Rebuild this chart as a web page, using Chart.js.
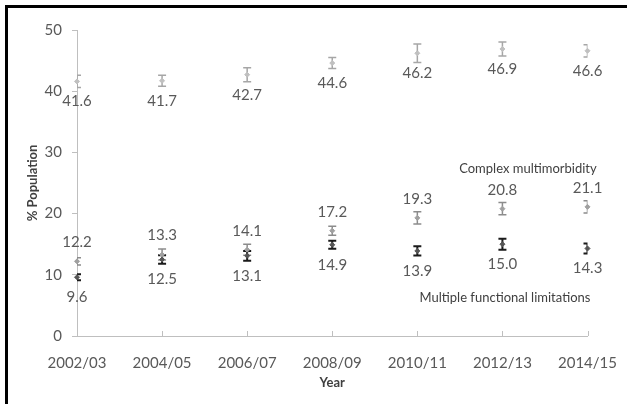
<!DOCTYPE html>
<html lang="en">
<head>
<meta charset="UTF-8" />
<title>% Population by year</title>
<script src="https://cdn.jsdelivr.net/npm/chart.js"></script>
<style>
  html, body { margin: 0; padding: 0; background: #fff; }
  .wrap { position: relative; width: 627px; height: 404px; }
  .frame { position: absolute; left: 5px; top: 5px; right: 0; bottom: 0;
           border-left: 3px solid #000; border-top: 3px solid #000; pointer-events: none; }
  canvas { position: absolute; left: 0; top: 0; }
</style>
</head>
<body>
<div class="wrap">
  <canvas id="chart" width="627" height="404"></canvas>
  <div class="frame"></div>
</div>

<script>
// categories
const years = ['2002/03', '2004/05', '2006/07', '2008/09', '2010/11', '2012/13', '2014/15'];

// values (% population) and their error half-widths
const multimorbidity = [41.6, 41.7, 42.7, 44.6, 46.2, 46.9, 46.6];
const multimorbidityErr = [1.0, 0.9, 1.15, 0.9, 1.5, 1.15, 1.0];

const complexMultimorbidity = [12.2, 13.3, 14.1, 17.2, 19.3, 20.8, 21.1];
const complexMultimorbidityErr = [0.6, 0.9, 0.9, 0.75, 1.0, 1.0, 1.0];

const functionalLimitations = [9.6, 12.5, 13.1, 14.9, 13.9, 15.0, 14.3];
const functionalLimitationsErr = [0.5, 0.7, 0.8, 0.65, 0.75, 0.9, 0.8];

const yTicks = [0, 10, 20, 30, 40, 50];

// text annotations: [text, category position, value]
const notes = [
    ['Complex multimorbidity', 5.3, 27.3],
    ['Multiple functional limitations', 5.03, 6.2]
];

const font = 'Lato, "Open Sans", sans-serif';
const textGrey = '#595959';

// error bars, clipped to the plot area like the original
const errorBars = {
    id: 'errorBars',
    beforeDatasetsDraw(chart) {
        const { ctx, chartArea: a, scales: { y } } = chart;
        ctx.save();
        ctx.beginPath();
        ctx.rect(a.left, a.top, a.right - a.left, a.bottom - a.top);
        ctx.clip();
        chart.data.datasets.forEach((ds, di) => {
            const meta = chart.getDatasetMeta(di);
            ctx.strokeStyle = ds.barColor;
            ctx.lineWidth = ds.barWidth;
            ds.data.forEach((v, i) => {
                const x = meta.data[i].x;
                const top = y.getPixelForValue(v + ds.err[i]);
                const bot = y.getPixelForValue(v - ds.err[i]);
                ctx.beginPath();
                ctx.moveTo(x, top); ctx.lineTo(x, bot);
                ctx.moveTo(x - 4, top); ctx.lineTo(x + 4, top);
                ctx.moveTo(x - 4, bot); ctx.lineTo(x + 4, bot);
                ctx.stroke();
            });
        });
        ctx.restore();
    }
};

// value labels and annotations
const valueLabels = {
    id: 'valueLabels',
    afterDatasetsDraw(chart) {
        const { ctx, scales: { x, y } } = chart;
        ctx.save();
        ctx.font = '15px ' + font;
        ctx.fillStyle = textGrey;
        ctx.textAlign = 'center';
        ctx.textBaseline = 'middle';
        chart.data.datasets.forEach((ds, di) => {
            const meta = chart.getDatasetMeta(di);
            ds.data.forEach((v, i) => {
                const p = meta.data[i];
                ctx.fillText(v.toFixed(1), p.x, p.y + ds.labelShift);
            });
        });
        ctx.font = '13px ' + font;
        ctx.fillStyle = '#404040';
        notes.forEach(([t, cx, cy]) => {
            ctx.fillText(t, x.getPixelForValue(cx), y.getPixelForValue(cy));
        });
        // small inward tick marks on the x axis
        ctx.strokeStyle = '#bfbfbf';
        ctx.lineWidth = 1;
        x.ticks.forEach((t, i) => {
            const px = Math.round(x.getPixelForTick(i)) + 0.5;
            ctx.beginPath();
            ctx.moveTo(px, y.bottom);
            ctx.lineTo(px, y.bottom - 5);
            ctx.stroke();
        });
        ctx.restore();
    }
};

const ctx = document.getElementById('chart').getContext('2d');
new Chart(ctx, {
    type: 'line',
    data: {
        labels: years,
        datasets: [
            {
                label: 'Multimorbidity',
                data: multimorbidity,
                err: multimorbidityErr,
                barColor: '#a6a6a6', barWidth: 1.5, labelShift: 20,
                showLine: false,
                pointStyle: 'rectRot', pointRadius: 2.5,
                pointBackgroundColor: '#c0c0c0', pointBorderColor: '#c0c0c0'
            },
            {
                label: 'Complex multimorbidity',
                data: complexMultimorbidity,
                err: complexMultimorbidityErr,
                barColor: '#8c8c8c', barWidth: 1.5, labelShift: -19,
                showLine: false,
                pointStyle: 'rectRot', pointRadius: 2.5,
                pointBackgroundColor: '#a0a0a0', pointBorderColor: '#a0a0a0'
            },
            {
                label: 'Multiple functional limitations',
                data: functionalLimitations,
                err: functionalLimitationsErr,
                barColor: '#1a1a1a', barWidth: 2, labelShift: 20,
                showLine: false,
                pointStyle: 'rectRot', pointRadius: 2.5,
                pointBackgroundColor: '#555', pointBorderColor: '#555'
            }
        ]
    },
    options: {
        responsive: false,
        animation: false,
        devicePixelRatio: 1,
        layout: { padding: { top: 30, right: 36, bottom: 0, left: 8 } },
        plugins: { legend: { display: false }, tooltip: { enabled: false } },
        scales: {
            x: {
                offset: false,
                grid: { display: false },
                border: { color: '#bfbfbf', width: 1 },
                ticks: { color: textGrey, font: { family: font, size: 15 }, padding: 10, maxRotation: 0 },
                title: { display: true, text: 'Year', color: '#404040',
                         font: { family: font, size: 13, weight: 'bold' }, padding: { top: 13, bottom: 13 } },
                afterFit: s => { s.height = 68; }
            },
            y: {
                min: 0, max: 50,
                afterBuildTicks: s => { s.ticks = yTicks.map(v => ({ value: v })); },
                grid: { drawOnChartArea: false, tickLength: 5, color: '#bfbfbf' },
                border: { color: '#bfbfbf', width: 1 },
                ticks: { color: textGrey, font: { family: font, size: 15 }, padding: 10 },
                title: { display: true, text: '% Population', color: '#404040',
                         font: { family: font, size: 13, weight: 'bold' }, padding: { top: 17, bottom: 4 } },
                afterFit: s => { s.width = 69; }
            }
        }
    },
    plugins: [errorBars, valueLabels]
});
</script>
</body>
</html>
